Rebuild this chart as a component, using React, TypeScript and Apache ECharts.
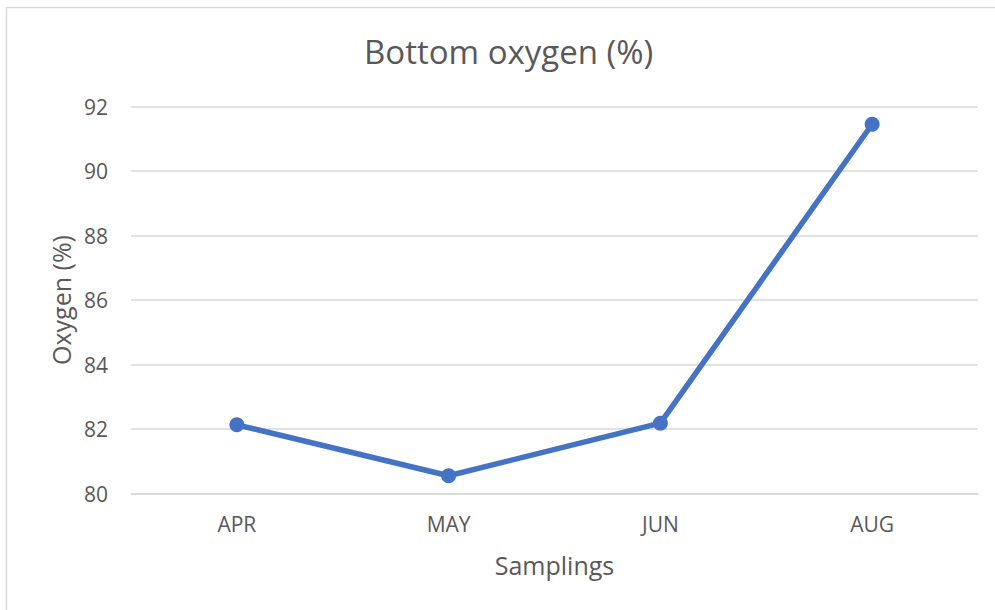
import React, { useEffect, useRef } from "react";
import * as echarts from "echarts";

const categories = ["APR", "MAY", "JUN", "AUG"];
const oxygenValues = [82.13, 80.55, 82.18, 91.45];
const titleText = "Bottom oxygen (%)";
const xName = "Samplings";
const yName = "Oxygen (%)";

const FONT = "'Open Sans', 'Noto Sans', sans-serif";
const TEXT = "#595959";

export default function App() {
  const ref = useRef<HTMLDivElement>(null);
  useEffect(() => {
    document.body.style.margin = "0";
    const chart = echarts.init(ref.current!, null, { renderer: "svg" });
    chart.setOption({
      animation: false,
      backgroundColor: "#ffffff",
      title: {
        text: titleText,
        left: 359,
        top: 30,
        textStyle: { fontFamily: FONT, fontSize: 33, fontWeight: "normal", color: TEXT },
      },
      graphic: [
        {
          type: "rect",
          shape: { x: 6.5, y: 7.5, width: 1010, height: 620 },
          style: { fill: "none", stroke: "#d9d9d9", lineWidth: 1.5 },
          silent: true,
        },
      ],
      grid: { left: 131, right: 17, top: 106.5, bottom: 116.5, containLabel: false },
      xAxis: {
        type: "category",
        data: categories,
        boundaryGap: true,
        name: xName,
        nameLocation: "middle",
        nameGap: 59,
        nameTextStyle: { fontFamily: FONT, fontSize: 25, color: TEXT },
        axisLine: { show: true, lineStyle: { color: "#d9d9d9", width: 1.5 } },
        axisTick: { show: false },
        axisLabel: { fontFamily: FONT, fontSize: 21, color: TEXT, margin: 20 },
      },
      yAxis: {
        type: "value",
        min: 80,
        max: 92,
        interval: 2,
        name: yName,
        nameLocation: "middle",
        nameGap: 58,
        nameTextStyle: { fontFamily: FONT, fontSize: 25, color: TEXT },
        axisLine: { show: false },
        axisTick: { show: false },
        axisLabel: { fontFamily: FONT, fontSize: 21, color: TEXT, margin: 23 },
        splitLine: { lineStyle: { color: "#d9d9d9", width: 1.5 } },
      },
      series: [
        {
          type: "line",
          data: oxygenValues,
          symbol: "circle",
          symbolSize: 15,
          lineStyle: { color: "#4472c4", width: 5.5 },
          itemStyle: { color: "#4472c4" },
        },
      ],
    });
    return () => chart.dispose();
  }, []);
  return <div ref={ref} style={{ position: "fixed", left: 0, top: 0, width: 995, height: 610 }} />;
}
